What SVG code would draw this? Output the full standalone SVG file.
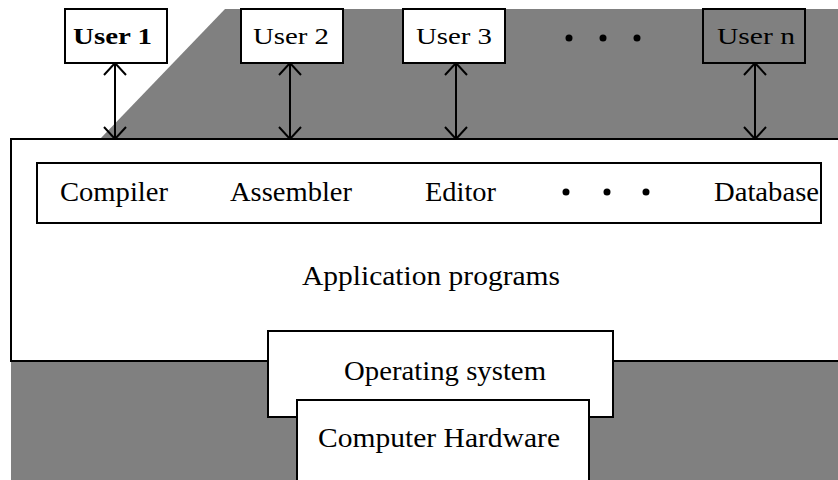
<svg xmlns="http://www.w3.org/2000/svg" width="838" height="480" viewBox="0 0 838 480">
<style>
  .box { fill: #ffffff; stroke: #000000; stroke-width: 2; }
  .boxg { fill: none; stroke: #000000; stroke-width: 2; }
  .t { font-family: "Liberation Serif", "Times New Roman", serif; fill: #000000; }
  .u { font-size: 24px; }
  .m { font-size: 28px; }
  .c { stroke: #000000; stroke-width: 2; fill: none; marker-start: url(#ah); marker-end: url(#ah); }
  .dot { fill: #000000; }
</style>
<defs>
  <marker id="ah" viewBox="0 0 14 24" refX="13" refY="12" markerWidth="14" markerHeight="24" markerUnits="userSpaceOnUse" orient="auto-start-reverse">
    <path d="M1,1 L13,12 L1,23" fill="none" stroke="#000000" stroke-width="2"/>
  </marker>
</defs>
<rect width="838" height="480" fill="#ffffff"/>
<!-- gray backgrounds -->
<polygon points="100,139 225,9 838,9 838,139" fill="#808080"/>
<rect x="11" y="361" width="827" height="119" fill="#808080"/>

<g id="application-programs">
  <rect class="box" x="11" y="139" width="840" height="222"/>
  <text class="t m" x="302" y="285" textLength="258" lengthAdjust="spacingAndGlyphs">Application programs</text>
</g>

<g id="users">
  <g id="user1">
    <rect class="box" x="65" y="9" width="102" height="54"/>
    <text class="t u" x="73" y="44" font-weight="bold" textLength="79" lengthAdjust="spacingAndGlyphs">User 1</text>
  </g>
  <g id="user2">
    <rect class="box" x="241" y="9" width="102" height="54"/>
    <text class="t u" x="253" y="44" textLength="76" lengthAdjust="spacingAndGlyphs">User  2</text>
  </g>
  <g id="user3">
    <rect class="box" x="403" y="9" width="102" height="54"/>
    <text class="t u" x="416" y="44" textLength="76" lengthAdjust="spacingAndGlyphs">User  3</text>
  </g>
  <g id="user-dots">
    <circle class="dot" cx="569" cy="38" r="3.5"/>
    <circle class="dot" cx="603" cy="38" r="3.5"/>
    <circle class="dot" cx="637" cy="38" r="3.5"/>
  </g>
  <g id="usern">
    <rect class="boxg" x="703" y="9" width="102" height="54"/>
    <text class="t u" x="717" y="44" textLength="78" lengthAdjust="spacingAndGlyphs">User  n</text>
  </g>
</g>

<g id="connectors">
  <line class="c" x1="115" y1="63" x2="115" y2="139"/>
  <line class="c" x1="290" y1="63" x2="290" y2="139"/>
  <line class="c" x1="456" y1="63" x2="456" y2="139"/>
  <line class="c" x1="755" y1="63" x2="755" y2="139"/>
</g>

<g id="tools">
  <rect class="box" x="37" y="163" width="784" height="60"/>
  <text class="t m" x="60" y="201" textLength="108" lengthAdjust="spacingAndGlyphs">Compiler</text>
  <text class="t m" x="230" y="201" textLength="122" lengthAdjust="spacingAndGlyphs">Assembler</text>
  <text class="t m" x="425" y="201" textLength="71" lengthAdjust="spacingAndGlyphs">Editor</text>
  <circle class="dot" cx="566" cy="192" r="3.5"/>
  <circle class="dot" cx="607" cy="192" r="3.5"/>
  <circle class="dot" cx="646" cy="192" r="3.5"/>
  <text class="t m" x="714" y="201" textLength="105" lengthAdjust="spacingAndGlyphs">Database</text>
</g>

<g id="operating-system">
  <rect class="box" x="268" y="331" width="345" height="86"/>
  <text class="t m" x="344" y="380" textLength="202" lengthAdjust="spacingAndGlyphs">Operating system</text>
</g>

<g id="computer-hardware">
  <rect class="box" x="297" y="400" width="292" height="91"/>
  <text class="t m" x="318" y="447" textLength="242" lengthAdjust="spacingAndGlyphs">Computer Hardware</text>
</g>
</svg>
